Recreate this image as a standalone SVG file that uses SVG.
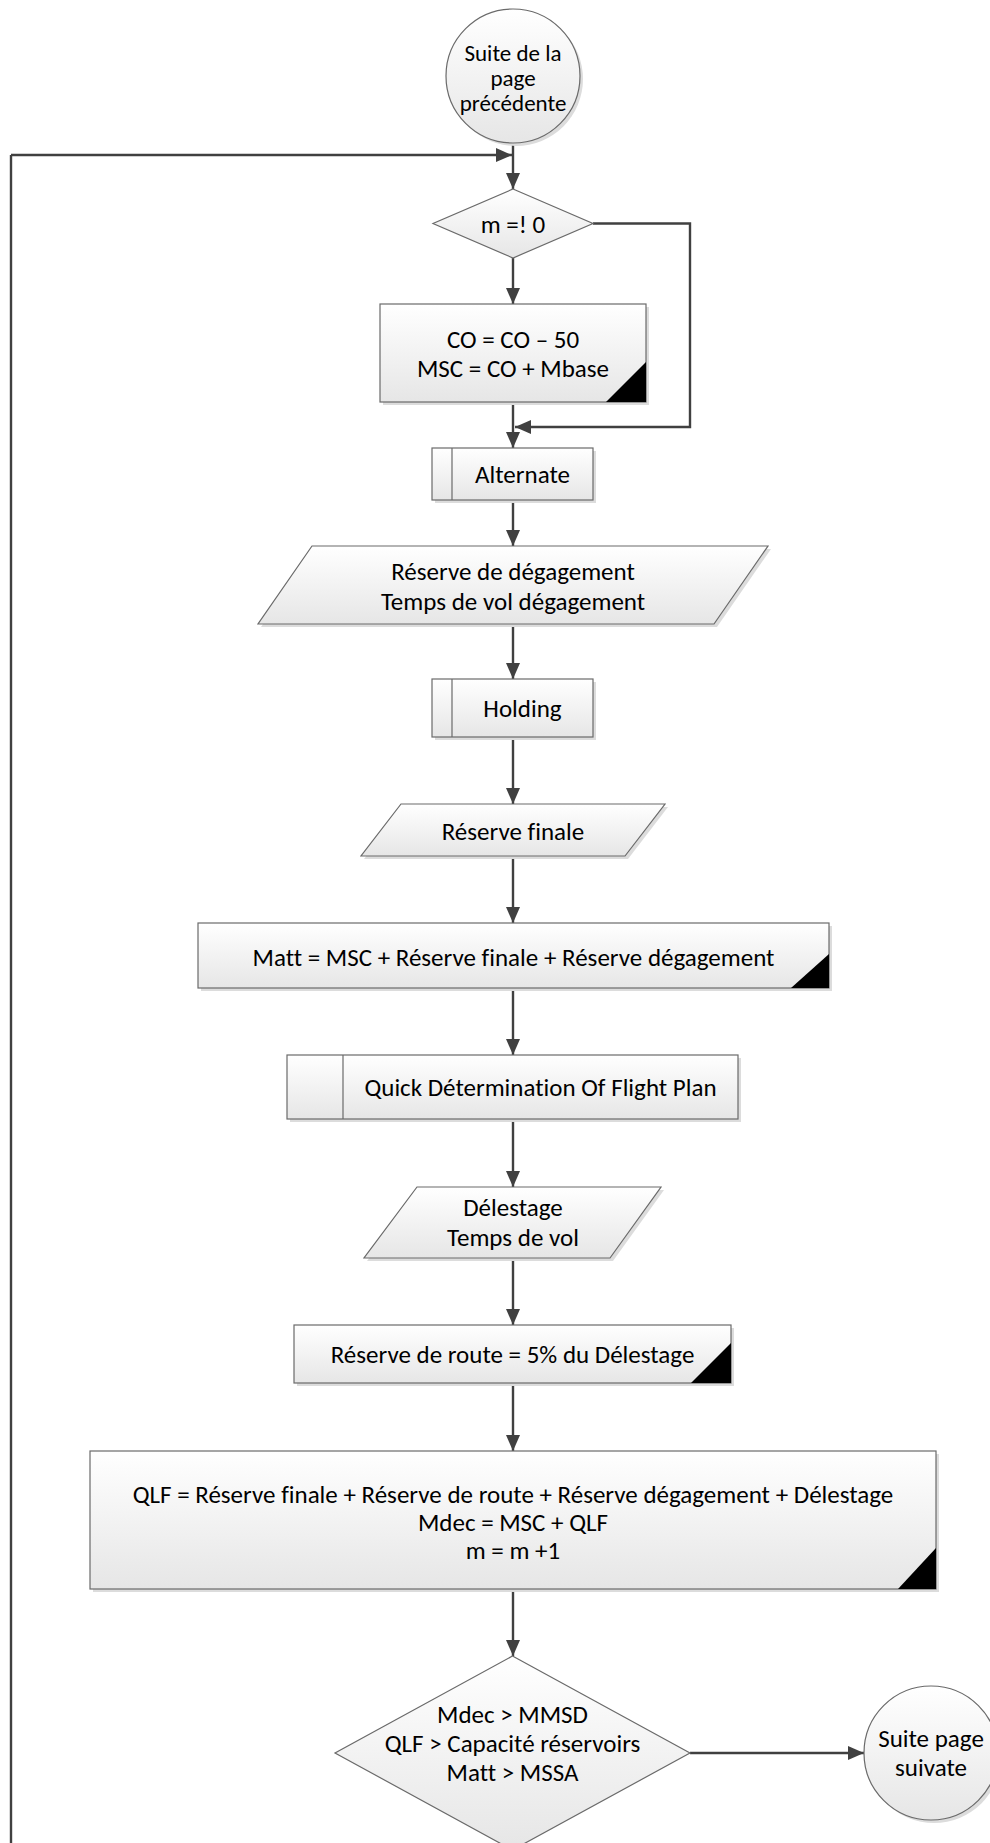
<svg xmlns="http://www.w3.org/2000/svg" width="990" height="1843" viewBox="0 0 990 1843">
  <defs>
    <linearGradient id="fillGrad" x1="0" y1="0" x2="0" y2="1">
      <stop offset="0" stop-color="#ffffff"/>
      <stop offset="1" stop-color="#e6e6e6"/>
    </linearGradient>
    <marker id="arrow" viewBox="0 0 16 14" refX="16" refY="7" markerWidth="16" markerHeight="14" markerUnits="userSpaceOnUse" orient="auto">
      <path d="M0,0 L16,7 L0,14 Z" fill="#404040"/>
    </marker>
    <style>
      .shape { fill: url(#fillGrad); stroke: #6a6a6a; stroke-width: 1.2; }
      .shadow { fill: #dcdcdc; stroke: none; }
      .inner { fill: none; stroke: #6a6a6a; stroke-width: 1.2; }
      .corner { fill: #000000; }
      .conn { fill: none; stroke: #404040; stroke-width: 2.4; marker-end: url(#arrow); }
      .loop { fill: none; stroke: #404040; stroke-width: 2.4; }
      text { font-family: Carlito, Lato, "Liberation Sans", sans-serif; font-size: 25px; fill: #000000; text-anchor: middle; dominant-baseline: central; font-variant-ligatures: none; }
      .small { font-size: 23px; }
    </style>
  </defs>

  <!-- connectors -->
  <g id="connectors">
    <path class="conn" d="M513,143 V189"/>
    <path class="loop" d="M512,1849 V1860 H11 V155"/>
    <path class="conn" d="M11,155 H512"/>
    <path class="conn" d="M513,258 V304"/>
    <path class="conn" d="M593,223.5 H690 V427 H515"/>
    <path class="conn" d="M513,402 V448"/>
    <path class="conn" d="M513,500 V546"/>
    <path class="conn" d="M513,624 V679"/>
    <path class="conn" d="M513,737 V804"/>
    <path class="conn" d="M513,856 V923"/>
    <path class="conn" d="M513,988 V1055"/>
    <path class="conn" d="M513,1119 V1187"/>
    <path class="conn" d="M513,1258 V1325"/>
    <path class="conn" d="M513,1383 V1451"/>
    <path class="conn" d="M513,1589 V1656"/>
    <path class="conn" d="M690,1753 H864"/>
  </g>

  <!-- start connector: continued from previous page -->
  <g id="start">
    <circle class="shadow" cx="516" cy="79" r="67"/>
    <circle class="shape" cx="513" cy="76" r="67"/>
    <text class="small" x="513" y="53">Suite de la</text>
    <text class="small" x="513" y="78">page</text>
    <text class="small" x="513" y="103">précédente</text>
  </g>

  <g id="decision-m">
    <polygon class="shape" points="513,189 593,223.5 513,258 433,223.5"/>
    <text x="513" y="224">m =! 0</text>
  </g>

  <g id="proc-co">
    <rect class="shadow" x="383" y="307" width="266" height="98"/>
    <rect class="shape" x="380" y="304" width="266" height="98"/>
    <polygon class="corner" points="606,402 646,402 646,362"/>
    <text x="513" y="339">CO = CO – 50</text>
    <text x="513" y="368">MSC = CO + Mbase</text>
  </g>

  <g id="sub-alternate">
    <rect class="shadow" x="435" y="451" width="161" height="52"/>
    <rect class="shape" x="432" y="448" width="161" height="52"/>
    <line class="inner" x1="452" y1="448" x2="452" y2="500"/>
    <text x="522.5" y="474">Alternate</text>
  </g>

  <g id="io-degagement">
    <polygon class="shadow" points="315,549 771,549 717,627 261,627"/>
    <polygon class="shape" points="312,546 768,546 714,624 258,624"/>
    <text x="513" y="571">Réserve de dégagement</text>
    <text x="513" y="601">Temps de vol dégagement</text>
  </g>

  <g id="sub-holding">
    <rect class="shadow" x="435" y="682" width="161" height="58"/>
    <rect class="shape" x="432" y="679" width="161" height="58"/>
    <line class="inner" x1="452" y1="679" x2="452" y2="737"/>
    <text x="522.5" y="708">Holding</text>
  </g>

  <g id="io-finale">
    <polygon class="shadow" points="404,807 668,807 628,859 364,859"/>
    <polygon class="shape" points="401,804 665,804 625,856 361,856"/>
    <text x="513" y="831">Réserve finale</text>
  </g>

  <g id="proc-matt">
    <rect class="shadow" x="201" y="926" width="631" height="65"/>
    <rect class="shape" x="198" y="923" width="631" height="65"/>
    <polygon class="corner" points="791,988 829,988 829,954"/>
    <text x="513.5" y="957">Matt = MSC + Réserve finale + Réserve dégagement</text>
  </g>

  <g id="sub-quick">
    <rect class="shadow" x="290" y="1058" width="451" height="64"/>
    <rect class="shape" x="287" y="1055" width="451" height="64"/>
    <line class="inner" x1="343" y1="1055" x2="343" y2="1119"/>
    <text x="540.5" y="1087">Quick Détermination Of Flight Plan</text>
  </g>

  <g id="io-delestage">
    <polygon class="shadow" points="420,1190 664,1190 613,1261 367,1261"/>
    <polygon class="shape" points="417,1187 661,1187 610,1258 364,1258"/>
    <text x="513" y="1207">Délestage</text>
    <text x="513" y="1237">Temps de vol</text>
  </g>

  <g id="proc-route">
    <rect class="shadow" x="297" y="1328" width="437" height="58"/>
    <rect class="shape" x="294" y="1325" width="437" height="58"/>
    <polygon class="corner" points="691,1383 731,1383 731,1343"/>
    <text x="512.5" y="1354">Réserve de route = 5% du Délestage</text>
  </g>

  <g id="proc-qlf">
    <rect class="shadow" x="93" y="1454" width="846" height="138"/>
    <rect class="shape" x="90" y="1451" width="846" height="138"/>
    <polygon class="corner" points="898,1589 936,1589 936,1548"/>
    <text x="513" y="1494">QLF = Réserve finale + Réserve de route + Réserve dégagement + Délestage</text>
    <text x="513" y="1522">Mdec = MSC + QLF</text>
    <text x="513" y="1550">m = m +1</text>
  </g>

  <g id="decision-limits">
    <polygon class="shape" points="512.5,1656 690,1753 512.5,1850 335,1753"/>
    <text x="512.5" y="1714">Mdec &gt; MMSD</text>
    <text x="512.5" y="1743">QLF &gt; Capacité réservoirs</text>
    <text x="512.5" y="1772">Matt &gt; MSSA</text>
  </g>

  <!-- end connector: continued on next page -->
  <g id="end">
    <circle class="shadow" cx="934" cy="1756" r="67"/>
    <circle class="shape" cx="931" cy="1753" r="67"/>
    <text x="931" y="1738">Suite page</text>
    <text x="931" y="1767">suivate</text>
  </g>
</svg>
